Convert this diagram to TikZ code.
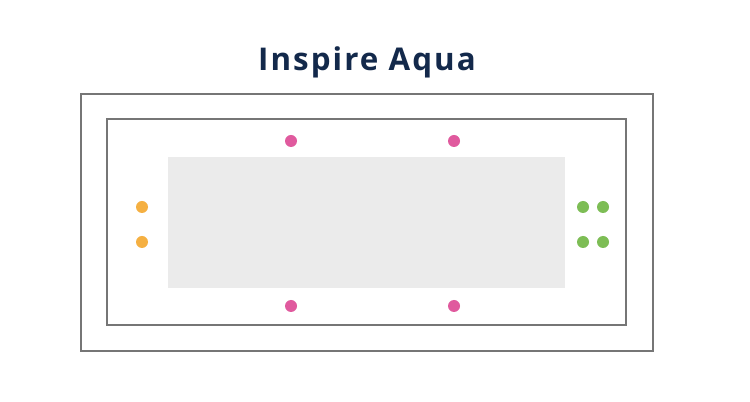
\documentclass[tikz,border=0pt]{standalone}
\usepackage{fontspec}
\setmainfont{Open Sans}
\definecolor{navy}{HTML}{13294B}
\definecolor{edge}{HTML}{767676}
\definecolor{tablegrey}{HTML}{EBEBEB}
\definecolor{pinkdot}{HTML}{E05A9E}
\definecolor{orangedot}{HTML}{F5B042}
\definecolor{greendot}{HTML}{7DBD55}
\tikzset{
  frame/.style={draw=edge, line width=1pt},
  seat/.style={circle, inner sep=0pt, minimum size=9pt},
  pinkseat/.style={seat, fill=pinkdot},
  orangeseat/.style={seat, fill=orangedot},
  greenseat/.style={seat, fill=greendot},
}
\begin{document}
\begin{tikzpicture}[x=0.75pt,y=-0.75pt]
\useasboundingbox[fill=white] (0,0) rectangle (750,402);
\node (title) at (367,62) {\fontsize{23.5}{28}\selectfont\addfontfeature{LetterSpace=6.5}\bfseries\color{navy}Inspire Aqua};
\draw[frame] (81,94) rectangle (653,351);
\draw[frame] (107,119) rectangle (626,325);
\fill[tablegrey] (168,157) rectangle (565,288);
\node[pinkseat] (p1) at (291,141) {};
\node[pinkseat] (p2) at (454,141) {};
\node[pinkseat] (p3) at (291,306) {};
\node[pinkseat] (p4) at (454,306) {};
\node[orangeseat] (o1) at (142,207) {};
\node[orangeseat] (o2) at (142,242) {};
\node[greenseat] (g1) at (583,207) {};
\node[greenseat] (g2) at (603,207) {};
\node[greenseat] (g3) at (583,242) {};
\node[greenseat] (g4) at (603,242) {};
\end{tikzpicture}
\end{document}
